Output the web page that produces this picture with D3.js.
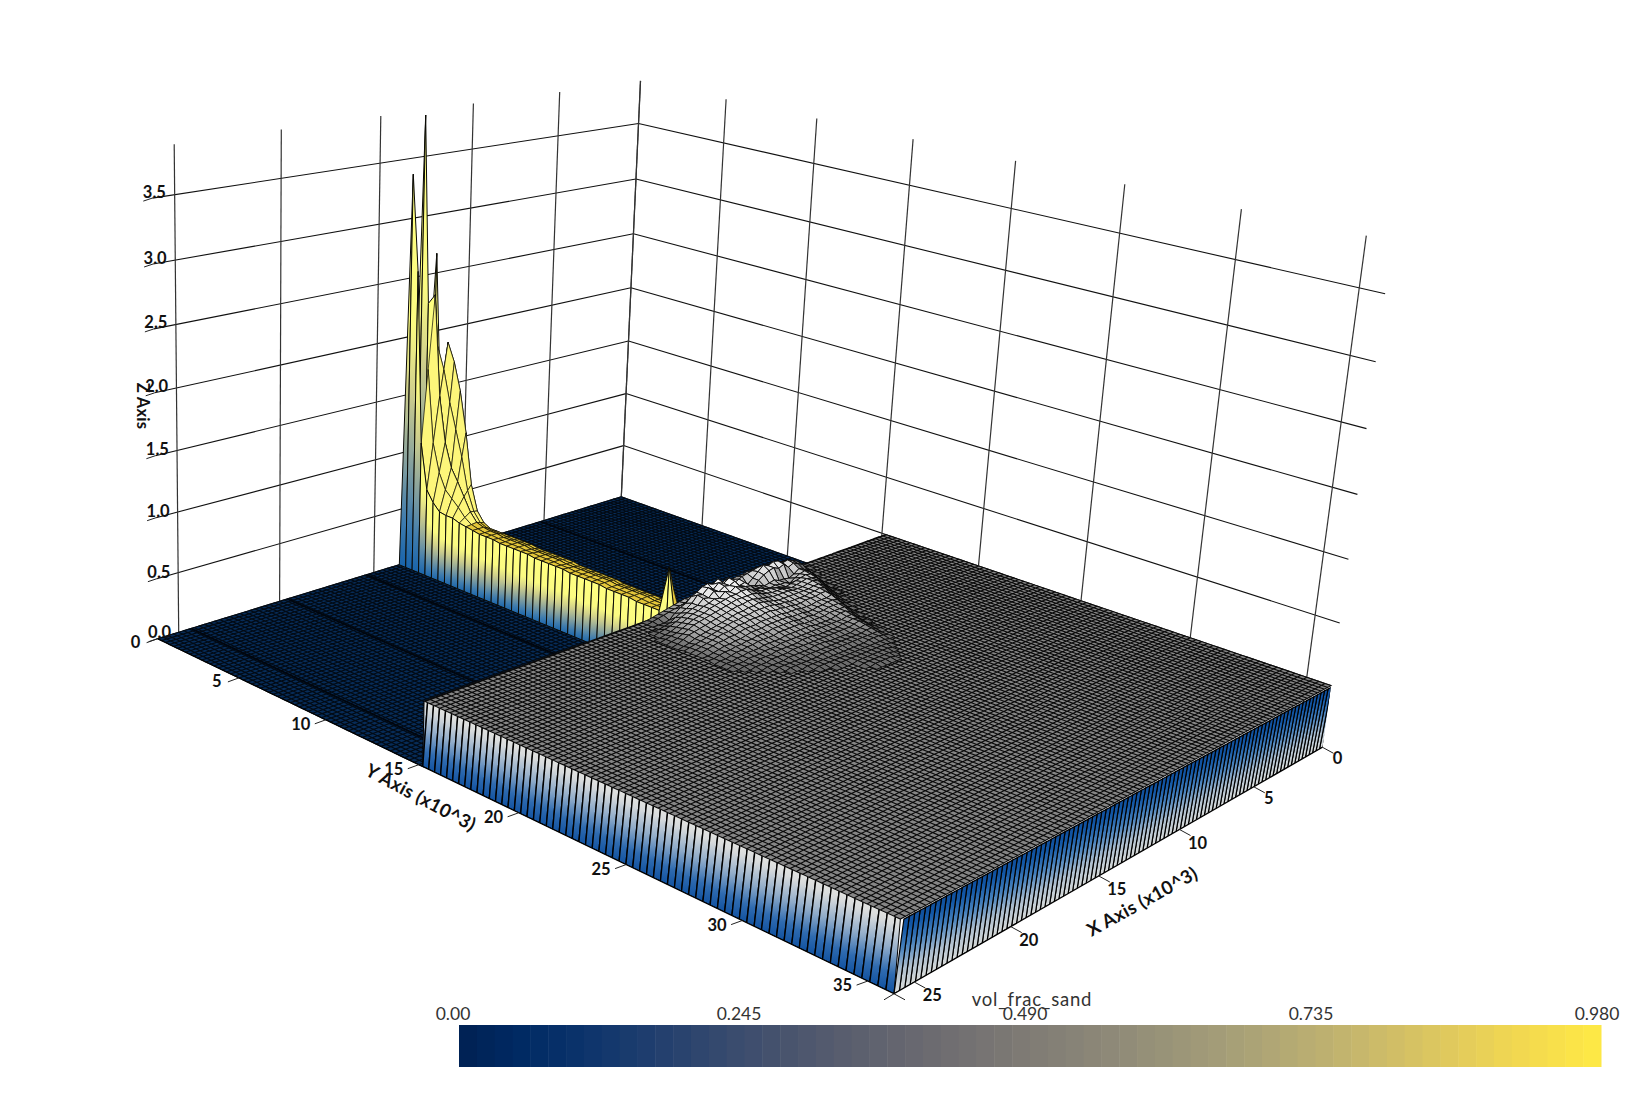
<!DOCTYPE html>
<html><head><meta charset="utf-8">
<style>html,body{margin:0;padding:0;background:#fff}svg{display:block}text{font-family:Lato,"Open Sans",sans-serif;fill:#111}</style>
<script src="https://cdn.jsdelivr.net/npm/d3@7/dist/d3.min.js"></script></head><body>
<svg id="c" width="1642" height="1094"></svg>
<script>
// ---------- values ----------
const xTicks=[0,5,10,15,20,25];
const yTicks=[0,5,10,15,20,25,30,35];
const zTicks=[0,0.5,1,1.5,2,2.5,3,3.5];
const colorTicks=[0,0.245,0.49,0.735,0.98];
const colorLabels=["0.00","0.245","0.490","0.735","0.980"];
const xMax=26,yMax=36,zGridTop=3.88,blockZ=0.5,blockStartY=15.2;
const meshX=104,meshY=144,stripesLeft=69,stripesRight=100;
const floorBandsX=[24.4,19.6,15.4,9.6,5.2];
// ridge height per Y step (0.4 units), three neighbouring X columns (back to front)
const ridgeY=0.4;
const ridgeX=[12.58,12.98,13.58];
const ridgeC=[0,1.5,2.72,1.51,2.0,1.85,1.62,1.28,.85,.64,.56,.53,.53,.53,.53,.53,.53,.53,.52,.52,.52,.52,.52,.52,.51,.51,.51,.51,.51,.51,.5,.5,.5,.5,.5,.5,.5,.5,.5,.5];
const ridgeB=[0,3.86,2.31,2.4,1.55,1.17,.97,.87,.76,.65,.58,.56,.55,.55,.54,.54,.54,.54,.53,.53,.53,.53,.53,.52,.52,.52,.52,.52,.52,.52,.51,.51,.51,.51,.51,.5,.5,.5,.5,.5];
const ridgeA=[0,3.39,2.6,1.15,.76,.67,.61,.6,.6,.58,.57,.56,.55,.55,.55,.54,.54,.54,.54,.54,.53,.53,.53,.53,.53,.52,.52,.52,.52,.52,.51,.51,.51,.51,.5,.5,.5,.5,.88,.5];
// mound above the block top, hundredths of a Z unit written in base 36;
// rows step 0.3 in Y from the block edge, characters step 0.3 in X from X=4.2
const moundCell=0.3,moundX0=4.2;
const moundRows=[
"0000012589aabbbbbaa988878877765432100000",
"000001369bcdeeefedca9899a999876543210000",
"00000026cegfijhjfb79cgjhlikjgea851000000",
"00000015bdfdhfhgeb69digmjlhkghc975210000",
"000000027ac9788a98abdhgljkhjfgcb97532100",
"000000016acb9688989bcghikhjfgedba8642100",
"0000000028bcba989abccegiihhgfedba9753210",
"0000000016abcba9abbbcdfggggfedcba9864210",
"00000000038bcbaaabbbbcdeffeedcba98765310",
"000000000159bbaaaaaaabcdeddccba987654210",
"000000000036abaa9999aabccccbbaa987654321",
"0000000000147aa9998899aabbaaa99877654321",
"0000000000025988877788899999888766554321",
"0000000000013788776677788888777655443211",
"0000000000001577766566677777666554433211",
"0000000000000366665555566666555544332110",
"0000000000000146654444555555444433322110",
"0000000000000025544444444444443332221110",
"0000000000000014544333334443333322211100",
"0000000000000003543333333333332222111000",
"0000000000000002433222223332222211110000",
"0000000000000001332222222222221111100000",
"0000000000000000222222222222111111000000",
"0000000000000000122211111111111100000000",
"0000000000000000011111111111111000000000",
"0000000000000000001111111111100000000000",
"0000000000000000000111111100000000000000",
"0000000000000000000011111100000000000000",
"0000000000000000000001111000000000000000",
"0000000000000000000000000000000000000000"];

// ---------- camera: solved from where the box corners sit on the page ----------
const cameraAnchors=[[26,0,0,157,640],[0,0,0,625,497],[0,36,0,1324,748],[26,36,0,894,994],[0,0,3.5,641,121],
[0,36,.5,1331,686],[26,36,.5,903,918],[26,0,3.5,151,196],[26,5,0,243,678],[26,10,0,327,721],
[26,35,0,862,980],[25,36,0,915,981],[20,36,0,1013,927],[15,36,0,1100,876],[25,0,0,179,633],[20,0,0,281,602],
[15,0,0,376,573],[0,15.2,.5,883,533],[26,15.2,.5,422,700],[26,15.2,0,419,767],
[0,36,3.5,1388,294],[0,36,3,1378,362],[0,36,2.5,1370,428],[0,36,2,1359,494],[0,36,1.5,1350,560],[0,36,1,1340,623],
[0,35,3.88,1363,237],[0,35,3.88,1363,237],[0,35,3.88,1363,237],[0,35,.5,1304,675],[25,0,3.88,173,145],
[0,0,3.88,642,81],[0,0,3.88,642,81],[0,0,3.88,642,81],[0,0,2,631,288],[0,0,1,615,394]];
const sx=d3.scaleLinear().domain([0,xMax]).range([0,1]),sy=d3.scaleLinear().domain([0,yMax]).range([0,1]),
      sz=d3.scaleLinear().domain([0,3.5]).range([0,1]);
function solveCamera(a){
  const rows=[];
  a.forEach(([X,Y,Z,u,v])=>{const x=sx(X),y=sy(Y),z=sz(Z);u/=1000;v/=1000;
    rows.push([x,y,z,1,0,0,0,0,-u*x,-u*y,-u*z,u]);
    rows.push([0,0,0,0,x,y,z,1,-v*x,-v*y,-v*z,v]);});
  const n=11,M=d3.range(n).map(i=>d3.range(n+1).map(j=>d3.sum(rows,r=>r[i]*r[j])));
  for(let c=0;c<n;c++){let p=c;for(let r=c+1;r<n;r++)if(Math.abs(M[r][c])>Math.abs(M[p][c]))p=r;
    [M[c],M[p]]=[M[p],M[c]];
    for(let r=0;r<n;r++)if(r!==c){const f=M[r][c]/M[c][c];for(let k=c;k<=n;k++)M[r][k]-=f*M[c][k];}}
  return M.map((r,i)=>r[n]/r[i]);
}
const P=solveCamera(cameraAnchors);
function proj(X,Y,Z){const x=sx(X),y=sy(Y),z=sz(Z),w=P[8]*x+P[9]*y+P[10]*z+1;
  return [1000*(P[0]*x+P[1]*y+P[2]*z+P[3])/w,1000*(P[4]*x+P[5]*y+P[6]*z+P[7])/w];}
const cellX=d3.scaleLinear().domain([0,meshX]).range([0,xMax]),cellY=d3.scaleLinear().domain([0,meshY]).range([0,yMax]);
const line=d3.line();if(line.digits)line.digits(1);
const poly=pts=>line(pts)+"Z";
const svg=d3.select("#c");
const defs=svg.append("defs");
function grad(id,stops){const g=defs.append("linearGradient").attr("id",id).attr("x1",0).attr("y1",1).attr("x2",0).attr("y2",0);
  stops.forEach(([o,c])=>g.append("stop").attr("offset",o).attr("stop-color",c));}
grad("gLeft",[[0,"#0f509f"],[.25,"#2f6bb0"],[.55,"#8fabc9"],[.85,"#d8dbdc"],[1,"#e6e6e2"]]);
grad("gRight",[[0,"#dcdedb"],[.3,"#aebfcf"],[.6,"#4681bd"],[.85,"#1257a6"],[1,"#0f4d9a"]]);
grad("gRidge",[[0,"#1763ab"],[.12,"#3f7cae"],[.28,"#8aa39d"],[.45,"#cfcf8c"],[.62,"#fbfb82"],[1,"#ffff80"]]);

// ---------- walls ----------
const wall=svg.append("g").attr("fill","none");
function seg(g,a,b,c,w){g.append("path").attr("d",line([a,b])).attr("stroke",c).attr("stroke-width",w);}
zTicks.forEach(z=>{seg(wall,proj(xMax,0,z),proj(0,0,z),"#111",1.1);seg(wall,proj(0,0,z),proj(0,yMax,z),"#111",1.1);});
xTicks.forEach(x=>seg(wall,proj(x,0,0),proj(x,0,zGridTop),"#333",1.2));
yTicks.forEach(y=>seg(wall,proj(0,y,0),proj(0,y,zGridTop),"#333",1.2));

// ---------- floor ----------
const floorRows=d3.range(0,Math.ceil(blockStartY/yMax*meshY));
let floorD="";
floorRows.forEach(j=>{for(let i=0;i<meshX;i++){
  floorD+=poly([proj(cellX(i),cellY(j),0),proj(cellX(i+1),cellY(j),0),proj(cellX(i+1),cellY(j+1),0),proj(cellX(i),cellY(j+1),0)]);}});
svg.append("path").attr("d",floorD).attr("fill","#072c58").attr("stroke","#020a14").attr("stroke-width",1.1);
floorBandsX.forEach(x=>seg(svg,proj(x,0,0),proj(x,blockStartY,0),"#01060e",1.8));

// ---------- ridge ----------
const ridgeCols=[ridgeC,ridgeB,ridgeA];
const ry=d3.scaleLinear().domain([0,1]).range([0,ridgeY]);
const rg=svg.append("g").attr("stroke","#0a0a05").attr("stroke-width",1).attr("stroke-linejoin","round");
ridgeCols.forEach((col,k)=>{
  const X=ridgeX[k];
  d3.range(col.length-1).forEach(j=>{
    const Y0=ry(j),Y1=ry(j+1);
    rg.append("path").attr("fill","url(#gRidge)")
      .attr("d",poly([proj(X,Y0,0),proj(X,Y1,0),proj(X,Y1,col[j+1]),proj(X,Y0,col[j])]));
  });
  if(k<ridgeCols.length-1){const nxt=ridgeCols[k+1],X2=ridgeX[k+1],Xm=(X+X2)/2;
    d3.range(col.length-1).forEach(j=>{const Y0=ry(j),Y1=ry(j+1);
      if(j<3)return;
      const m0=(col[j]+nxt[j])/2,m1=(col[j+1]+nxt[j+1])/2;
      [[X,col[j],col[j+1],Xm,m0,m1],[Xm,m0,m1,X2,nxt[j],nxt[j+1]]].forEach(([a,a0,a1,b,b0,b1])=>{
        rg.append("path").attr("fill",j<10?"#fdf67a":"#e3c63a").attr("stroke-width",.7)
          .attr("d",poly([proj(a,Y0,a0),proj(b,Y0,b0),proj(b,Y1,b1),proj(a,Y1,a1)]));});});}
});

// ---------- block sides ----------
const lean=3.5;
const lift=p=>[p[0]+lean,p[1]];
defs.append("clipPath").attr("id","cLeft").append("path").attr("d",poly([proj(xMax,blockStartY,0),proj(xMax,yMax,0),proj(xMax,yMax,blockZ),proj(xMax,blockStartY,blockZ)]));
defs.append("clipPath").attr("id","cRight").append("path").attr("d",poly([proj(0,yMax,0),proj(xMax,yMax,0),proj(xMax,yMax,blockZ),proj(0,yMax,blockZ)]));
const sl=d3.scaleLinear().domain([0,stripesLeft]).range([blockStartY-.3,yMax]);
const sr=d3.scaleLinear().domain([0,stripesRight]).range([-.3,xMax]);
const sideL=svg.append("g").attr("clip-path","url(#cLeft)").attr("stroke","#000").attr("stroke-width",1.4);
d3.range(stripesLeft).forEach(j=>{sideL.append("path").attr("fill","url(#gLeft)")
  .attr("d",poly([proj(xMax,sl(j),0),proj(xMax,sl(j+1),0),lift(proj(xMax,sl(j+1),blockZ)),lift(proj(xMax,sl(j),blockZ))]));});
const sideR=svg.append("g").attr("clip-path","url(#cRight)").attr("stroke","#000").attr("stroke-width",1.2);
d3.range(stripesRight).forEach(i=>{sideR.append("path").attr("fill","url(#gRight)")
  .attr("d",poly([proj(sr(i),yMax,0),proj(sr(i+1),yMax,0),lift(proj(sr(i+1),yMax,blockZ)),lift(proj(sr(i),yMax,blockZ))]));});
seg(svg,proj(xMax,blockStartY,0),proj(xMax,blockStartY,blockZ),"#000",1);
seg(svg,proj(xMax,yMax,0),proj(xMax,yMax,blockZ),"#000",1);

// ---------- block top ----------
let topD="";
for(let j=floorRows.length-1;j<meshY;j++)for(let i=0;i<meshX;i++){
  const Y0=Math.max(cellY(j),blockStartY),Y1=cellY(j+1);
  topD+=poly([proj(cellX(i),Y0,blockZ),proj(cellX(i+1),Y0,blockZ),proj(cellX(i+1),Y1,blockZ),proj(cellX(i),Y1,blockZ)]);}
svg.append("path").attr("d",topD).attr("fill","#858585").attr("stroke","#0a0a0a").attr("stroke-width",1.08);
const mx=d3.scaleLinear().domain([0,1]).range([moundX0,moundX0+moundCell]);
const my=d3.scaleLinear().domain([0,1]).range([blockStartY,blockStartY+moundCell]);
const H=(i,j)=>parseInt(moundRows[j][i],36)/100;
const shade=d3.scaleLinear().domain([0,.02,.05,.1,.2]).range(["#686868","#7a7a7a","#9e9e9e","#c4c4c4","#f2f2f2"]).clamp(true);
const mg=svg.append("g").attr("stroke","#0a0a0a").attr("stroke-width",.95);
d3.range(moundRows.length-1).forEach(j=>d3.range(moundRows[0].length-1).forEach(i=>{
  const a=H(i,j),b=H(i+1,j),c=H(i+1,j+1),d=H(i,j+1);if(a+b+c+d===0)return;
  const m=(a+b+c+d)/4,back=(b+c-a-d)/2;
  const col=back>.01?d3.interpolateRgb(shade(m),"#1c1c1c")(Math.min(1,back*22)):shade(m);
  mg.append("path").attr("fill",col).attr("d",poly([
    proj(mx(i),my(j),blockZ+a),proj(mx(i+1),my(j),blockZ+b),
    proj(mx(i+1),my(j+1),blockZ+c),proj(mx(i),my(j+1),blockZ+d)]));
}));

// ---------- axes ----------
const ax=svg.append("g");
seg(ax,proj(xMax,0,0),proj(xMax,yMax,0),"#000",1.2);
seg(ax,proj(0,yMax,0),proj(xMax,yMax,0),"#000",1.2);
function label(t,p,dx,dy){ax.append("text").attr("x",p[0]+dx).attr("y",p[1]+dy).attr("text-anchor","middle").attr("dominant-baseline","central")
  .attr("font-size",16.5).attr("font-weight",700).text(t);}
yTicks.forEach(y=>{const p=proj(xMax,y,0);seg(ax,p,[p[0]-11,p[1]+4],"#222",1);label(y,p,y<10?-22:-25,y<10?3:4);});
xTicks.forEach(x=>{const p=proj(x,yMax,0);seg(ax,p,[p[0]+11,p[1]+6],"#222",1);label(x,p,x<10?15:18,x<10?11:13);});
(()=>{const p=proj(xMax,yMax,0);seg(ax,p,[p[0]-10,p[1]+6],"#222",1);seg(ax,p,[p[0]+11,p[1]+6],"#222",1);})();
zTicks.forEach(z=>{const p=proj(xMax,0,z);seg(ax,p,[p[0]-9,p[1]+3],"#222",1);label(d3.format(".1f")(z),p,2,-6.5);});
function title(t,x,y,r,f){ax.append("text").attr("transform",`translate(${x},${y}) rotate(${r})`).attr("text-anchor","middle").attr("dominant-baseline","central")
  .attr("font-size",f).attr("font-weight",700).attr("letter-spacing",.3).text(t);}
title("Y Axis (x10^3)",421,797,28,18.5);
title("X Axis (x10^3)",1142,901,-29,18.5);
title("Z Axis",143,406,90,16.5);

// ---------- colour bar ----------
const cbX=d3.scaleLinear().domain([0,.98]).range([459,1601]);
const cbC=d3.scaleSequential(d3.interpolateCividis).domain([0,.98]);
const bands=d3.range(64).map(k=>k*.98/64);
svg.append("g").selectAll("rect").data(bands).join("rect")
  .attr("x",d=>cbX(d)).attr("width",d=>cbX(d+.98/64)-cbX(d)+.5).attr("y",1025).attr("height",42)
  .attr("fill",d=>cbC(d+.49/64));
const cbLabelX=d3.scaleLinear().domain([0,.98]).range([453,1597]);
svg.append("g").selectAll("text").data(colorTicks).join("text")
  .attr("x",d=>cbLabelX(d)).attr("y",1020).attr("text-anchor","middle").attr("font-size",17.5).attr("font-weight",400).style("fill","#333")
  .text((d,i)=>colorLabels[i]);
svg.append("text").attr("x",1032).attr("y",1006).attr("text-anchor","middle").attr("font-size",18.5).attr("font-weight",400).attr("letter-spacing",.8).style("fill","#333").text("vol_frac_sand");
</script></body></html>
